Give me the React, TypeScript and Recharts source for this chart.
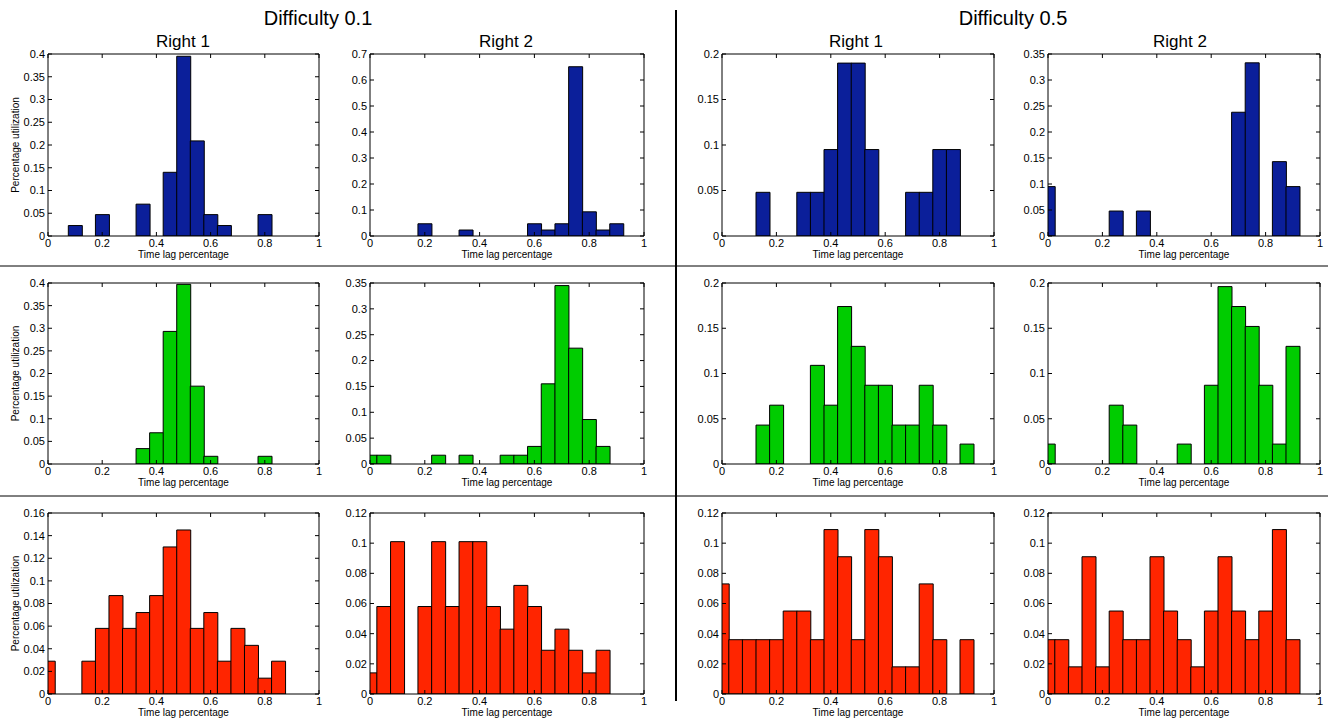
import React from "react";
import { BarChart, Bar, XAxis, YAxis, Label } from "recharts";

// histogram bin centres (matlab hist, 21 bins)
const BIN_CENTERS = [0, 0.05, 0.1, 0.15, 0.2, 0.25, 0.3, 0.35, 0.4, 0.45, 0.5, 0.55, 0.6, 0.65, 0.7, 0.75, 0.8, 0.85, 0.9, 0.95, 1];
const X_TICKS = [0, 0.2, 0.4, 0.6, 0.8, 1];

const Y_TICKS_040 = [0, 0.05, 0.1, 0.15, 0.2, 0.25, 0.3, 0.35, 0.4];
const Y_TICKS_070 = [0, 0.1, 0.2, 0.3, 0.4, 0.5, 0.6, 0.7];
const Y_TICKS_035 = [0, 0.05, 0.1, 0.15, 0.2, 0.25, 0.3, 0.35];
const Y_TICKS_020 = [0, 0.05, 0.1, 0.15, 0.2];
const Y_TICKS_016 = [0, 0.02, 0.04, 0.06, 0.08, 0.1, 0.12, 0.14, 0.16];
const Y_TICKS_012 = [0, 0.02, 0.04, 0.06, 0.08, 0.1, 0.12];

// Difficulty 0.1
const d1Right1Blue = [0, 0, 0.023, 0, 0.047, 0, 0, 0.07, 0, 0.14, 0.395, 0.209, 0.047, 0.023, 0, 0, 0.047, 0, 0, 0, 0];
const d1Right2Blue = [0, 0, 0, 0, 0.047, 0, 0, 0.023, 0, 0, 0, 0, 0.047, 0.023, 0.047, 0.651, 0.093, 0.023, 0.047, 0, 0];
const d1Right1Green = [0, 0, 0, 0, 0, 0, 0, 0.034, 0.069, 0.293, 0.397, 0.172, 0.017, 0, 0, 0, 0.017, 0, 0, 0, 0];
const d1Right2Green = [0.017, 0.017, 0, 0, 0, 0.017, 0, 0.017, 0, 0, 0.017, 0.017, 0.034, 0.155, 0.345, 0.224, 0.086, 0.034, 0, 0, 0];
const d1Right1Red = [0.029, 0, 0, 0.029, 0.058, 0.087, 0.058, 0.072, 0.087, 0.13, 0.145, 0.058, 0.072, 0.029, 0.058, 0.043, 0.014, 0.029, 0, 0, 0];
const d1Right2Red = [0.014, 0.058, 0.101, 0, 0.058, 0.101, 0.058, 0.101, 0.101, 0.058, 0.043, 0.072, 0.058, 0.029, 0.043, 0.029, 0.014, 0.029, 0, 0, 0];

// Difficulty 0.5
const d5Right1Blue = [0, 0, 0, 0.048, 0, 0, 0.048, 0.048, 0.095, 0.19, 0.19, 0.095, 0, 0, 0.048, 0.048, 0.095, 0.095, 0, 0, 0];
const d5Right2Blue = [0.095, 0, 0, 0, 0, 0.048, 0, 0.048, 0, 0, 0, 0, 0, 0, 0.238, 0.333, 0, 0.143, 0.095, 0, 0];
const d5Right1Green = [0, 0, 0, 0.043, 0.065, 0, 0, 0.109, 0.065, 0.174, 0.13, 0.087, 0.087, 0.043, 0.043, 0.087, 0.043, 0, 0.022, 0, 0];
const d5Right2Green = [0.022, 0, 0, 0, 0, 0.065, 0.043, 0, 0, 0, 0.022, 0, 0.087, 0.196, 0.174, 0.152, 0.087, 0.022, 0.13, 0, 0];
const d5Right1Red = [0.073, 0.036, 0.036, 0.036, 0.036, 0.055, 0.055, 0.036, 0.109, 0.091, 0.036, 0.109, 0.091, 0.018, 0.018, 0.073, 0.036, 0, 0.036, 0, 0];
const d5Right2Red = [0.036, 0.036, 0.018, 0.091, 0.018, 0.055, 0.036, 0.036, 0.091, 0.055, 0.036, 0.018, 0.055, 0.091, 0.055, 0.036, 0.055, 0.109, 0.036, 0, 0];

const BLUE = "#0b1f9a";
const GREEN = "#00cc00";
const RED = "#ff2500";

const FONT = '"Liberation Sans", Arial, Helvetica, sans-serif';

const fmt = (v: number) => String(parseFloat(Number(v).toFixed(3)));
const blank = () => "";

interface PanelProps {
  values: number[];
  color: string;
  yTicks: number[];
  left: number;
  top: number;
  right: number;
  bottom: number;
  yLabel?: boolean;
}

const AX_W = 40;
const PAD_T = 6;
const PAD_R = 6;
const AX_H = 30;

function Panel({ values, color, yTicks, left, top, right, bottom, yLabel }: PanelProps) {
  const data = BIN_CENTERS.map((x, i) => ({ x, v: values[i] }));
  const yMax = yTicks[yTicks.length - 1];
  const w = right - left + AX_W + PAD_R;
  const h = bottom - top + PAD_T + AX_H;

  return (
    <div style={{ position: "absolute", left: left - AX_W, top: top - PAD_T, width: w, height: h }}>
      <BarChart
        width={w}
        height={h}
        data={data}
        margin={{ top: 5, right: 5, left: 0, bottom: 0 }}
        barCategoryGap={0}
        barGap={0}
      >
        <XAxis
          dataKey="x"
          type="number"
          domain={[0, 1]}
          ticks={X_TICKS}
          interval={0}
          allowDataOverflow
          height={AX_H}
          tickSize={-4}
          tickMargin={7}
          tickFormatter={fmt}
          stroke="#000"
          tick={{ fill: "#000", fontSize: 11 }}
        >
          <Label
            value="Time lag percentage"
            position="insideBottom"
            offset={8}
            style={{ fontSize: 10, fill: "#000" }}
          />
        </XAxis>
        {/* box: top + right axes with inward ticks, no labels */}
        <XAxis
          xAxisId="top"
          dataKey="x"
          orientation="top"
          type="number"
          domain={[0, 1]}
          ticks={X_TICKS}
          interval={0}
          allowDataOverflow
          height={1}
          tickSize={-4}
          tickFormatter={blank}
          stroke="#000"
        />
        <YAxis
          type="number"
          domain={[0, yMax]}
          ticks={yTicks}
          interval={0}
          allowDataOverflow
          width={AX_W}
          tickSize={-4}
          tickMargin={7}
          tickFormatter={fmt}
          stroke="#000"
          tick={{ fill: "#000", fontSize: 11 }}
        >
          {yLabel && (
            <Label
              content={(props: any) => {
                const vb = props && props.viewBox;
                if (!vb) return null;
                const cx = vb.x + 7;
                const cy = vb.y + vb.height / 2;
                return (
                  <text
                    x={cx}
                    y={cy}
                    transform={`rotate(-90 ${cx} ${cy})`}
                    textAnchor="middle"
                    dominantBaseline="central"
                    fontSize={10}
                    fill="#000"
                  >
                    Percentage utilization
                  </text>
                );
              }}
            />
          )}
        </YAxis>
        <YAxis
          yAxisId="right"
          dataKey="v"
          orientation="right"
          type="number"
          domain={[0, yMax]}
          ticks={yTicks}
          interval={0}
          allowDataOverflow
          width={1}
          tickSize={-4}
          tickFormatter={blank}
          stroke="#000"
        />
        <Bar dataKey="v" fill={color} stroke="#000" strokeWidth={1} isAnimationActive={false} />
      </BarChart>
    </div>
  );
}

const COLS = [
  { left: 48, right: 319 },
  { left: 370, right: 644 },
  { left: 722, right: 994 },
  { left: 1048, right: 1320 },
];
const ROWS = [
  { top: 54, bottom: 236 },
  { top: 283, bottom: 464 },
  { top: 513, bottom: 694 },
];

export default function App() {
  return (
    <div
      style={{
        position: "absolute",
        left: 0,
        top: 0,
        width: 1328,
        height: 721,
        background: "#fff",
        fontFamily: FONT,
      }}
    >
      <svg width={1328} height={721} style={{ position: "absolute", left: 0, top: 0 }}>
        <text x={318} y={25} textAnchor="middle" fontSize={20} fill="#000">Difficulty 0.1</text>
        <text x={1013} y={25} textAnchor="middle" fontSize={20} fill="#000">Difficulty 0.5</text>
        <text x={183} y={47} textAnchor="middle" fontSize={17} fill="#000">Right 1</text>
        <text x={506} y={47} textAnchor="middle" fontSize={17} fill="#000">Right 2</text>
        <text x={856} y={47} textAnchor="middle" fontSize={17} fill="#000">Right 1</text>
        <text x={1180} y={47} textAnchor="middle" fontSize={17} fill="#000">Right 2</text>
        <line x1={676} y1={10} x2={676} y2={701} stroke="#000" strokeWidth={2} />
        <line x1={0} y1={266} x2={1328} y2={266} stroke="#000" strokeWidth={1} />
        <line x1={0} y1={496} x2={1328} y2={496} stroke="#000" strokeWidth={1} />
      </svg>

      <Panel values={d1Right1Blue} color={BLUE} yTicks={Y_TICKS_040} {...COLS[0]} {...ROWS[0]} yLabel />
      <Panel values={d1Right2Blue} color={BLUE} yTicks={Y_TICKS_070} {...COLS[1]} {...ROWS[0]} />
      <Panel values={d5Right1Blue} color={BLUE} yTicks={Y_TICKS_020} {...COLS[2]} {...ROWS[0]} />
      <Panel values={d5Right2Blue} color={BLUE} yTicks={Y_TICKS_035} {...COLS[3]} {...ROWS[0]} />

      <Panel values={d1Right1Green} color={GREEN} yTicks={Y_TICKS_040} {...COLS[0]} {...ROWS[1]} yLabel />
      <Panel values={d1Right2Green} color={GREEN} yTicks={Y_TICKS_035} {...COLS[1]} {...ROWS[1]} />
      <Panel values={d5Right1Green} color={GREEN} yTicks={Y_TICKS_020} {...COLS[2]} {...ROWS[1]} />
      <Panel values={d5Right2Green} color={GREEN} yTicks={Y_TICKS_020} {...COLS[3]} {...ROWS[1]} />

      <Panel values={d1Right1Red} color={RED} yTicks={Y_TICKS_016} {...COLS[0]} {...ROWS[2]} yLabel />
      <Panel values={d1Right2Red} color={RED} yTicks={Y_TICKS_012} {...COLS[1]} {...ROWS[2]} />
      <Panel values={d5Right1Red} color={RED} yTicks={Y_TICKS_012} {...COLS[2]} {...ROWS[2]} />
      <Panel values={d5Right2Red} color={RED} yTicks={Y_TICKS_012} {...COLS[3]} {...ROWS[2]} />
    </div>
  );
}
